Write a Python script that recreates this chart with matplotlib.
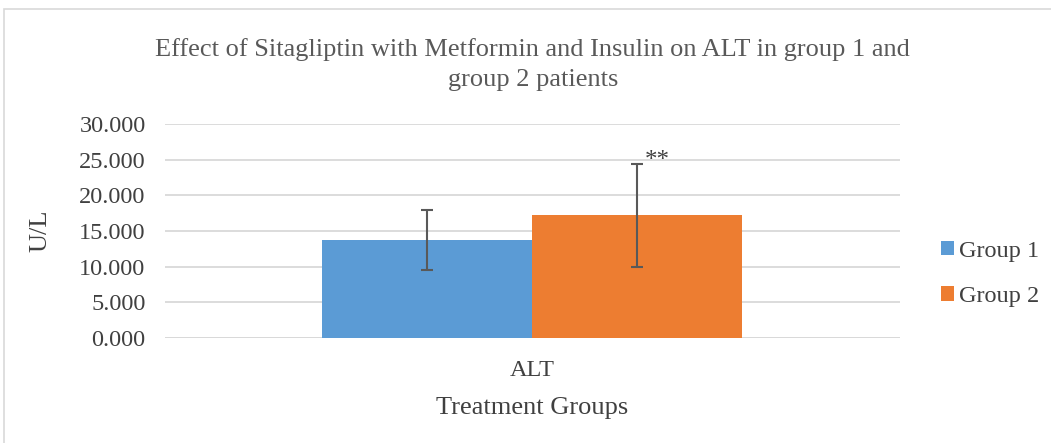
import matplotlib.pyplot as plt
import numpy as np
from matplotlib.patches import Rectangle

plt.rcParams['font.family'] = ['Liberation Serif', 'DejaVu Serif']

# data
categories = ['ALT']
series_names = ['Group 1', 'Group 2']
means = [13.8, 17.2]
errors = [4.2, 7.2]
colors = ['#5B9BD5', '#ED7D31']
yticks = [0, 5, 10, 15, 20, 25, 30]

fig = plt.figure(figsize=(10.51, 4.43), dpi=100)
fig.patches.append(Rectangle((0.004, -0.1), 1.1, 1.08, transform=fig.transFigure,
                             fill=False, edgecolor='#d9d9d9', linewidth=1.2))

ax = fig.add_axes([0.157, 0.237, 0.699, 0.483])
x = np.arange(len(categories))
w = 0.286
for i, (name, m, e, c) in enumerate(zip(series_names, means, errors, colors)):
    xpos = x + (i - 0.5) * w
    ax.bar(xpos, [m], width=w, color=c, label=name, zorder=2)
    ax.errorbar(xpos, [m], yerr=[e], fmt='none', ecolor='#595959',
                elinewidth=1.5, capsize=4.3, capthick=1.5, zorder=3)

# significance mark next to group 2 error bar
ax.text(x[0] + 0.5 * w + 0.01, means[1] + errors[1] + 0.4, '**',
        fontsize=18, color='#404040', ha='left', va='center')

ax.set_xlim(-0.5, 0.5)
ax.set_ylim(0, 30)
ax.set_yticks(yticks)
ax.set_yticklabels([f'{v:.3f}' for v in yticks], fontsize=17.5, color='#404040')
ax.set_xticks(x)
ax.set_xticklabels(categories, fontsize=17.5, color='#404040')
ax.tick_params(axis='y', length=0, pad=14)
ax.tick_params(axis='x', length=0, pad=16)
ax.grid(axis='y', color='#d9d9d9', linewidth=1.3, zorder=0)
for s in ax.spines.values():
    s.set_visible(False)
ax.axhline(0, color='#d9d9d9', linewidth=1.3, zorder=1)

ax.set_ylabel('U/L', fontsize=19, color='#404040', labelpad=20)
ax.set_xlabel('Treatment Groups', fontsize=19, color='#404040', labelpad=11)
fig.text(0.507, 0.854, 'Effect of Sitagliptin with Metformin and Insulin on ALT in group 1 and\ngroup 2 patients',
         ha='center', va='center', fontsize=19, color='#595959', linespacing=1.45)

ax.legend(loc='center left', bbox_to_anchor=(1.026, 0.30), frameon=False,
          fontsize=17.5, handlelength=0.55, handleheight=0.55, handletextpad=0.2,
          labelspacing=1.0, labelcolor='#404040')

fig.savefig('out.png', dpi=100)
